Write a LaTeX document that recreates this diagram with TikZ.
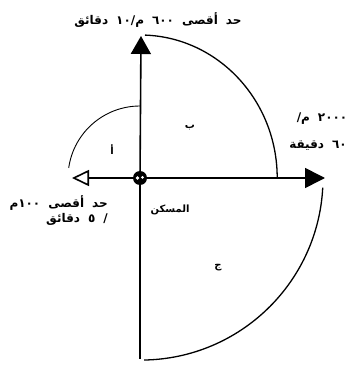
\documentclass[tikz,border=0pt]{standalone}
\usepackage{fontspec}
\newfontfamily\arabicfont[Script=Arabic]{DejaVu Sans}
\TeXXeTstate=1
\newcommand\arwide{\spaceskip=8pt\relax}
\usetikzlibrary{arrows.meta}
\begin{document}
\begin{tikzpicture}[x=1pt,y=1pt,
  axis/.style={line width=1.6pt},
  arcline/.style={line width=1.3pt},
  thinarc/.style={line width=0.9pt},
  lbl/.style={font=\arabicfont\bfseries\fontsize{12}{14}\selectfont\arwide, inner sep=0pt},
  small/.style={font=\arabicfont\bfseries\fontsize{10}{12}\selectfont, inner sep=0pt}]
\useasboundingbox[fill=white] (0,0) rectangle (354,376);
\coordinate (c) at (140,198);
\coordinate (top) at (141,340);
\coordinate (right) at (325,198);
\coordinate (left) at (72,198);
\coordinate (bottom) at (140,17);
% axes
\draw[axis,-{Triangle[length=18pt,width=20pt]}] (c) -- (top);
\draw[axis,-{Triangle[length=20pt,width=20pt]}] (c) -- (right);
\draw[axis,-{Triangle[open,length=17pt,width=16pt]}] (c) -- (left);
\draw[axis] (c) -- (bottom);
% arcs
\draw[arcline] ([shift={(88:143)}]c) arc[start angle=88,end angle=0,x radius=137,y radius=143];
\draw[thinarc] ([shift={(90:72)}]c) arc[start angle=90,end angle=172,radius=72];
\draw[arcline] ([shift={(-3:183)}]c) arc[start angle=-3,end angle=-89,radius=182];
% centre
\node[circle,fill=black,minimum size=14pt,inner sep=0pt] (cn) at (c) {};
\fill[white] (137.5,198) circle (1.8pt);
\fill[white] (142.5,198.5) circle (1.5pt);
% texts
\node[lbl] (ttop) at (158,356) {\beginR حد أقصى ٦٠٠ م/١٠ دقائق\endR};
\node[lbl] (tr1) at (322,257) {\beginR ٢٠٠٠ م/\endR};
\node[lbl] (tr2) at (318,230) {\beginR ٦٠ دقيقة\endR};
\node[lbl,anchor=east] (tl1) at (108,173) {\beginR حد أقصى ١٠٠م\endR};
\node[lbl,anchor=east] (tl2) at (108,157) {\beginR / ٥ دقائق\endR};
\node[small] (la) at (112,226) {أ};
\node[small] (lb) at (190,248) {ب};
\node[small] (lc) at (218,108) {ج};
\node[small] (home) at (170,166) {\beginR المسكن\endR};
\end{tikzpicture}
\end{document}
